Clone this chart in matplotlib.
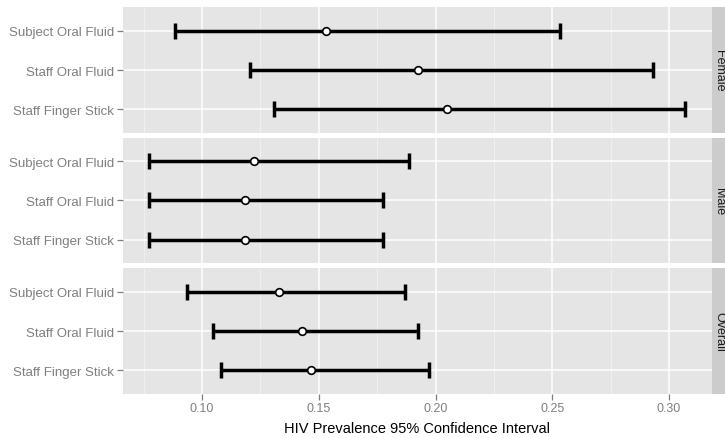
import matplotlib
matplotlib.use("Agg")
import matplotlib.pyplot as plt
from matplotlib.ticker import FixedLocator

plt.rcParams['font.family'] = ['Liberation Sans', 'DejaVu Sans']

panels = ["Female", "Male", "Overall"]
methods = ["Subject Oral Fluid", "Staff Oral Fluid", "Staff Finger Stick"]

female_est = [0.1532, 0.1923, 0.2051]
female_lo = [0.0883, 0.1204, 0.1310]
female_hi = [0.2531, 0.2932, 0.3067]

male_est = [0.1224, 0.1186, 0.1185]
male_lo = [0.0774, 0.0774, 0.0774]
male_hi = [0.1887, 0.1774, 0.1774]

overall_est = [0.1331, 0.1429, 0.1468]
overall_lo = [0.0936, 0.1046, 0.1081]
overall_hi = [0.1869, 0.1923, 0.1970]

x_major = [0.10, 0.15, 0.20, 0.25, 0.30]
x_labels = ["0.10", "0.15", "0.20", "0.25", "0.30"]
x_minor = [0.075, 0.125, 0.175, 0.225, 0.275]

data = {
    "Female": (female_est, female_lo, female_hi),
    "Male": (male_est, male_lo, male_hi),
    "Overall": (overall_est, overall_lo, overall_hi),
}

W, H = 725, 439
fig = plt.figure(figsize=(W / 100, H / 100), dpi=100)
fig.patch.set_facecolor("white")

left_px, right_px = 122.5, 711.5
panel_tops = [8.3, 138.6, 269.3]
panel_h = 125.7

all_lo = min(female_lo + male_lo + overall_lo)
all_hi = max(female_hi + male_hi + overall_hi)
span = all_hi - all_lo
xlim = (all_lo - 0.05 * span, all_hi + 0.05 * span)

tick_color = "#7F7F7F"
n = len(methods)

for i, name in enumerate(panels):
    top = panel_tops[i]
    ax = fig.add_axes([left_px / W, 1 - (top + panel_h) / H,
                       (right_px - left_px) / W, panel_h / H])
    ax.set_facecolor("#E5E5E5")
    for s in ax.spines.values():
        s.set_visible(False)
    est, lo, hi = data[name]
    ypos = [n - 1 - k for k in range(n)]
    ax.set_xlim(*xlim)
    ax.set_ylim(-0.6, n - 1 + 0.6)
    ax.xaxis.set_major_locator(FixedLocator(x_major))
    ax.xaxis.set_minor_locator(FixedLocator(x_minor))
    ax.set_yticks(ypos)
    ax.set_yticklabels(methods)
    ax.grid(which="major", color="white", linewidth=1.1)
    ax.grid(which="minor", axis="x", color="#F2F2F2", linewidth=0.6)
    ax.set_axisbelow(True)
    ax.tick_params(axis="both", which="major", color=tick_color, length=4,
                   width=0.9, labelcolor=tick_color, labelsize=9.5, pad=2)
    ax.tick_params(axis="both", which="minor", length=0)
    if i < len(panels) - 1:
        ax.tick_params(axis="x", which="major", labelbottom=False, length=0)
    else:
        ax.set_xticklabels(x_labels)
        ax.tick_params(axis="x", labelsize=9)
        ax.set_xlabel("HIV Prevalence 95% Confidence Interval", fontsize=10.5,
                      color="black", labelpad=4.5)
    xerr = [[e - l for e, l in zip(est, lo)], [h - e for e, h in zip(est, hi)]]
    ax.errorbar(est, ypos, xerr=xerr, fmt="none", ecolor="black",
                elinewidth=2.5, capsize=5.5, capthick=2.5, zorder=3)
    ax.plot(est, ypos, "o", markersize=5.5, markerfacecolor="white",
            markeredgecolor="black", markeredgewidth=1.2, zorder=4)
    # strip
    sax = fig.add_axes([right_px / W, 1 - (top + panel_h) / H,
                        (W - right_px + 10) / W, panel_h / H])
    sax.set_facecolor("#CCCCCC")
    sax.set_xticks([])
    sax.set_yticks([])
    for s in sax.spines.values():
        s.set_visible(False)
    fig.text(719 / W, 1 - (top + panel_h / 2) / H, name, rotation=-90,
             ha="center", va="center", fontsize=9, color="#1A1A1A")

fig.savefig("out.png", dpi=100)
